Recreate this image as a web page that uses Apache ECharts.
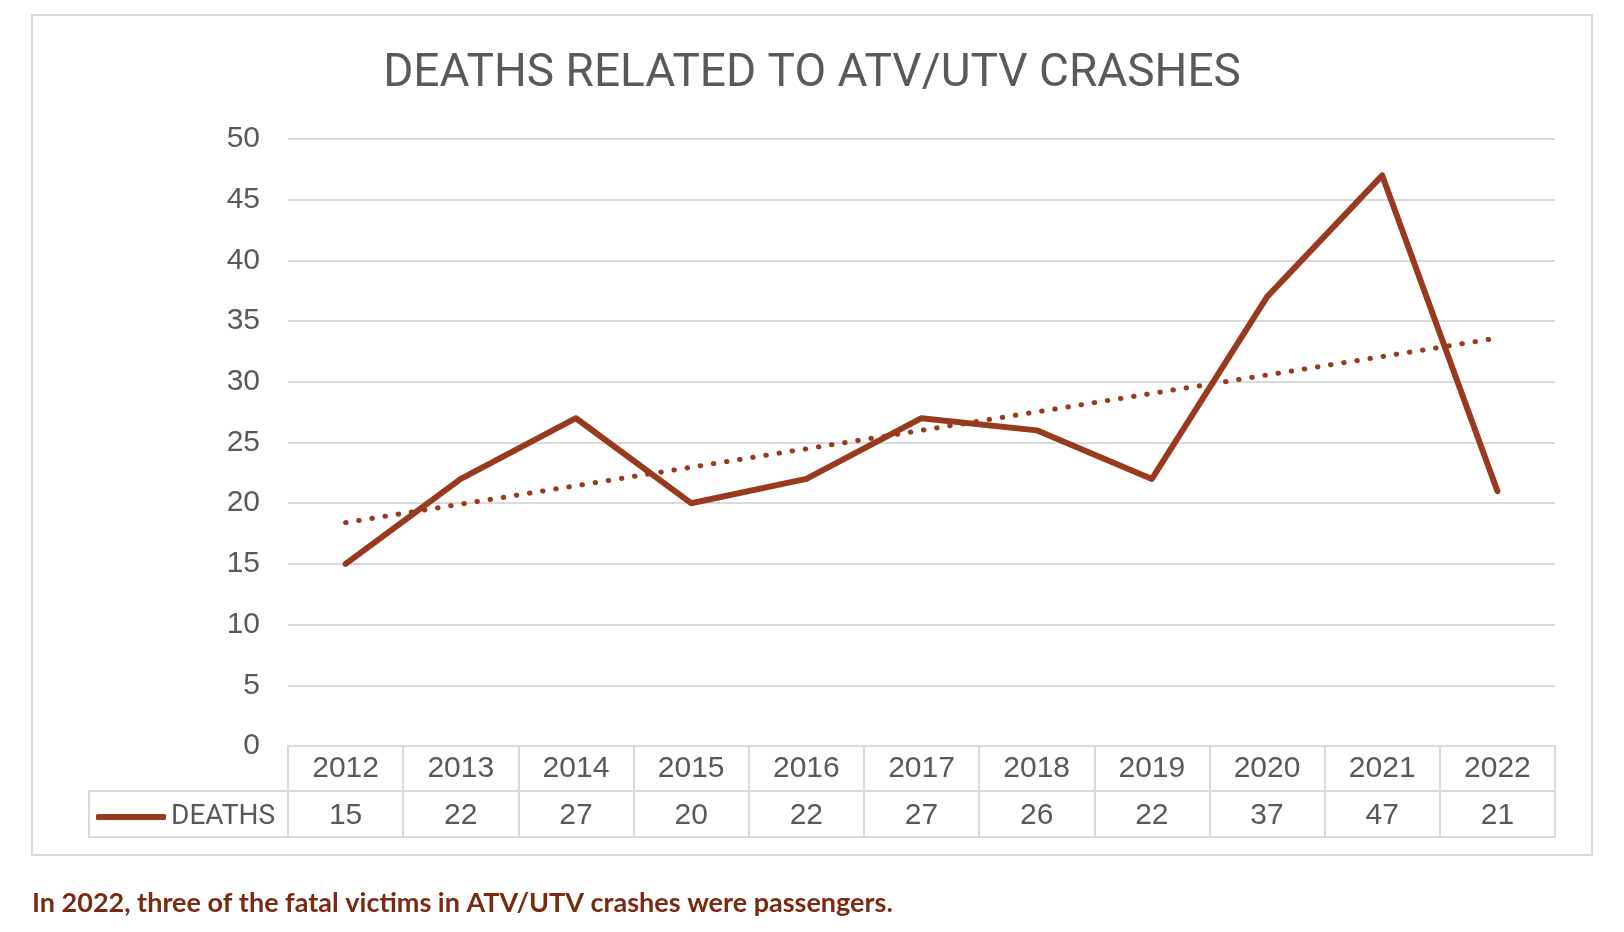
<!DOCTYPE html>
<html>
<head>
<meta charset="utf-8">
<script src="https://cdn.jsdelivr.net/npm/echarts@6/dist/echarts.min.js"></script>
<style>
html,body{margin:0;padding:0;background:#fff;}
#chart{width:1624px;height:932px;}
</style>
</head>
<body>
<div id="chart"></div>
<script>
const years = ['2012','2013','2014','2015','2016','2017','2018','2019','2020','2021','2022'];
const deaths = [15, 22, 27, 20, 22, 27, 26, 22, 37, 47, 21];
const trendEnds = [18.4, 33.6];
const yTicks = { min: 0, max: 50, interval: 5 };
const titleText = 'DEATHS RELATED TO ATV/UTV CRASHES';
const seriesName = 'DEATHS';
const footnote = 'In 2022, three of the fatal victims in ATV/UTV crashes were passengers.';

const lineColor = '#983a1e';
const gridColor = '#d9d9d9';
const textColor = '#595959';
const numFont = '"Liberation Sans", Arial, sans-serif';
const capFont = 'Roboto, "Liberation Sans", sans-serif';

const trendData = years.map((y, i) => i === 0 ? trendEnds[0] : (i === years.length - 1 ? trendEnds[1] : '-'));

const chart = echarts.init(document.getElementById('chart'));
const option = {
  animation: false,
  backgroundColor: '#fff',
  title: [
    {
      text: titleText,
      left: 'center',
      top: 51,
      padding: 0,
      textStyle: { fontFamily: capFont, fontSize: 46, fontWeight: 'normal', color: textColor }
    },
    {
      text: footnote,
      left: 32,
      top: 890,
      padding: 0,
      textStyle: { fontFamily: 'Lato, sans-serif', fontSize: 27, fontWeight: 'bold', color: '#7b2a12' }
    }
  ],
  legend: {
    data: [seriesName],
    left: 96,
    top: 803,
    padding: 0,
    icon: 'roundRect',
    itemWidth: 70,
    itemHeight: 6,
    textStyle: { fontFamily: capFont, fontSize: 28, color: textColor }
  },
  grid: { left: 288, right: 69, top: 139, bottom: 186, containLabel: false },
  xAxis: [
    {
      type: 'category',
      data: years,
      position: 'bottom',
      boundaryGap: true,
      axisLine: { show: true, lineStyle: { color: gridColor, width: 2 } },
      axisTick: { show: true, length: 91, interval: 0, lineStyle: { color: gridColor, width: 2 } },
      axisLabel: { interval: 0, margin: 8, fontFamily: numFont, fontSize: 30, color: textColor }
    },
    {
      type: 'category',
      data: deaths.map(String),
      position: 'bottom',
      offset: 45,
      boundaryGap: true,
      axisLine: { show: true, lineStyle: { color: gridColor, width: 2 } },
      axisTick: { show: false },
      axisLabel: { interval: 0, margin: 10, fontFamily: numFont, fontSize: 30, color: textColor }
    },
    {
      type: 'category',
      data: years,
      position: 'bottom',
      offset: 91,
      boundaryGap: true,
      axisLine: { show: true, lineStyle: { color: gridColor, width: 2 } },
      axisTick: { show: false },
      axisLabel: { show: false }
    }
  ],
  yAxis: {
    type: 'value',
    min: yTicks.min,
    max: yTicks.max,
    interval: yTicks.interval,
    axisLine: { show: false },
    axisTick: { show: false },
    axisLabel: { margin: 28, fontFamily: numFont, fontSize: 30, color: textColor },
    splitLine: { show: true, lineStyle: { color: gridColor, width: 2 } }
  },
  series: [
    {
      name: 'Trend',
      type: 'line',
      data: trendData,
      connectNulls: true,
      symbol: 'none',
      silent: true,
      lineStyle: { color: lineColor, width: 5, type: [0.5, 12.8], cap: 'round' },
      z: 2
    },
    {
      name: seriesName,
      type: 'line',
      data: deaths,
      symbol: 'none',
      itemStyle: { color: lineColor },
      lineStyle: { color: lineColor, width: 6, cap: 'round', join: 'round' },
      z: 3
    }
  ],
  graphic: [
    {
      type: 'rect',
      shape: { x: 32, y: 15, width: 1560, height: 840 },
      style: { fill: 'none', stroke: gridColor, lineWidth: 2 },
      silent: true
    },
    {
      type: 'rect',
      shape: { x: 89, y: 791, width: 199, height: 46 },
      style: { fill: 'none', stroke: gridColor, lineWidth: 2 },
      silent: true
    }
  ]
};
chart.setOption(option);
</script>
</body>
</html>
